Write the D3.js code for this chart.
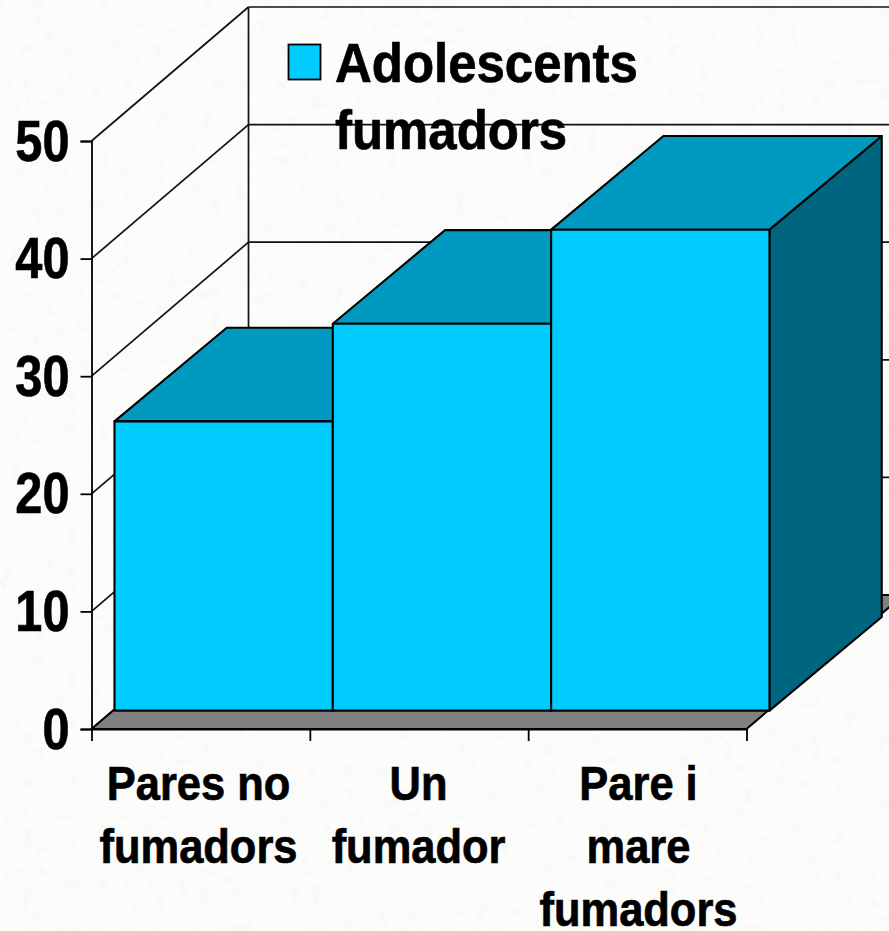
<!DOCTYPE html>
<html>
<head>
<meta charset="utf-8">
<script src="https://cdn.jsdelivr.net/npm/d3@7"></script>
<style>
  html, body { margin: 0; padding: 0; background: #fcfcfa; overflow: hidden; }
  text { font-family: "Liberation Sans", Arial, sans-serif; font-weight: bold; fill: #000; stroke: #000; stroke-width: 0.7px; }
</style>
</head>
<body>
<div id="chart"></div>
<script>
// Data
const categories = ["Pares no fumadors", "Un fumador", "Pare i mare fumadors"];
const categoryLines = [["Pares no", "fumadors"], ["Un", "fumador"], ["Pare i", "mare", "fumadors"]];
const values = [24.6, 32.9, 40.9];
const yTicks = [0, 10, 20, 30, 40, 50];
const legendLines = ["Adolescents", "fumadors"];

const width = 889, height = 931;

// Colours of the 3D faces
const frontColor = "#00ccff", topColor = "#0099bf", sideColor = "#006680", floorColor = "#808080";

const svg = d3.select("#chart").append("svg")
  .attr("width", width)
  .attr("height", height)
  .style("display", "block");

// Speckled paper background
const filter = svg.append("defs").append("filter")
  .attr("id", "paper")
  .attr("x", 0).attr("y", 0).attr("width", "100%").attr("height", "100%");
filter.append("feTurbulence")
  .attr("type", "fractalNoise")
  .attr("baseFrequency", 0.09)
  .attr("numOctaves", 3)
  .attr("seed", 4);
filter.append("feColorMatrix")
  .attr("values", "0 0 0 0 0.45  0 0 0 0 0.45  0 0 0 0 0.43  0.9 0 0 0 -0.47");

svg.append("rect").attr("width", width).attr("height", height).attr("fill", "#fcfcfa");
svg.append("rect").attr("width", width).attr("height", height).attr("filter", "url(#paper)").attr("opacity", 0.2);

// Scales
const y = d3.scaleLinear().domain([0, 50]).range([729, 141]);
const xEdge = d3.scaleLinear().domain([0, categories.length]).range([91.5, 746.5]);
const x = d3.scaleBand().domain(categories).range([92.5, 747.5]);
const xLabel = d3.scaleBand().domain(categories).range([88.5, 748.5]);

// Oblique projection: z = 0 is the front of the floor, z = 1 the back wall
const depthX = 157, depthY = -134;
const project = (px, py, z) => [px + z * depthX, py + z * depthY];
// the bars recede a little less steeply than the walls in the original
const projectBar = (px, py, z) => [px + z * depthX, py - z * 131];
const barFront = 0.14, barBack = 0.855;
const line = d3.line();
const poly = pts => line(pts) + "Z";

const left = xEdge.range()[0], right = xEdge.range()[1];

// Walls: gridlines along the side wall and across the back wall
const grid = svg.append("g").attr("fill", "none").attr("stroke", "#111").attr("stroke-width", 1.7);
grid.selectAll("path.side")
  .data(yTicks)
  .join("path")
  .attr("class", "side")
  .attr("d", d => line([project(left, y(d), 0), project(left, y(d), 1)]));
grid.selectAll("path.back")
  .data(yTicks)
  .join("path")
  .attr("class", "back")
  .attr("d", d => line([project(left, y(d), 1), project(right, y(d), 1)]));
grid.append("path")
  .attr("d", line([project(left, y(0), 1), project(left, y(50), 1)]));

// Floor
svg.append("path")
  .attr("d", poly([
    project(left, y(0), 0),
    project(right, y(0), 0),
    project(right, y(0), 1),
    project(left, y(0), 1)
  ]))
  .attr("fill", floorColor)
  .attr("stroke", "#000")
  .attr("stroke-width", 2);

// Axes
const yAxis = svg.append("g")
  .attr("transform", `translate(${left},0)`)
  .call(d3.axisLeft(y).tickValues(yTicks).tickSize(11).tickPadding(11));
yAxis.selectAll("line, path").attr("stroke", "#000").attr("stroke-width", 1.8);
yAxis.selectAll("text")
  .attr("font-size", 58)
  .attr("dy", 19)
  .attr("text-anchor", "end")
  .attr("transform", function () {
    const tx = +d3.select(this).attr("x");
    return `translate(${tx},0) scale(0.84,1) translate(${-tx},0)`;
  });

const xAxis = svg.append("g")
  .attr("transform", `translate(0,${y(0)})`)
  .call(d3.axisBottom(xEdge).tickValues(d3.range(categories.length + 1)).tickFormat("").tickSize(12).tickSizeOuter(0));
xAxis.selectAll("line, path").attr("stroke", "#000").attr("stroke-width", 1.8);

// Bars, left to right so each one covers the side of the previous one
const bars = svg.append("g")
  .selectAll("g")
  .data(categories.map((c, i) => ({ category: c, value: values[i] })))
  .join("g")
  .attr("stroke", "#000")
  .attr("stroke-width", 2.1)
  .attr("stroke-linejoin", "round");

bars.append("path")
  .attr("fill", sideColor)
  .attr("d", d => {
    const r = x(d.category) + x.bandwidth();
    return poly([
      projectBar(r, y(0), barFront), projectBar(r, y(d.value), barFront),
      projectBar(r, y(d.value), barBack), projectBar(r, y(0), barBack)
    ]);
  });
bars.append("path")
  .attr("fill", topColor)
  .attr("d", d => {
    const l = x(d.category), r = l + x.bandwidth();
    return poly([
      projectBar(l, y(d.value), barFront), projectBar(r, y(d.value), barFront),
      projectBar(r, y(d.value), barBack), projectBar(l, y(d.value), barBack)
    ]);
  });
bars.append("path")
  .attr("fill", frontColor)
  .attr("d", d => {
    const l = x(d.category), r = l + x.bandwidth();
    return poly([
      projectBar(l, y(0), barFront), projectBar(r, y(0), barFront),
      projectBar(r, y(d.value), barFront), projectBar(l, y(d.value), barFront)
    ]);
  });

// Category labels, wrapped by hand as in the original
const labels = svg.append("g").selectAll("g")
  .data(categories)
  .join("g")
  .attr("transform", c => `translate(${xLabel(c) + xLabel.bandwidth() / 2},0) scale(0.905,1)`);
labels.selectAll("text")
  .data((c, i) => categoryLines[i])
  .join("text")
  .attr("y", (d, i) => 800 + i * 63)
  .attr("text-anchor", "middle")
  .attr("font-size", 48)
  .text(d => d);

// Legend
const legend = svg.append("g");
legend.append("rect")
  .attr("x", 288.5).attr("y", 44.5)
  .attr("width", 32).attr("height", 35)
  .attr("fill", frontColor)
  .attr("stroke", "#000")
  .attr("stroke-width", 1.8);
legend.append("g")
  .attr("transform", "translate(335,0) scale(0.91,1)")
  .selectAll("text")
  .data(legendLines)
  .join("text")
  .attr("y", (d, i) => 82 + i * 67)
  .attr("font-size", 56)
  .text(d => d);
</script>
</body>
</html>
